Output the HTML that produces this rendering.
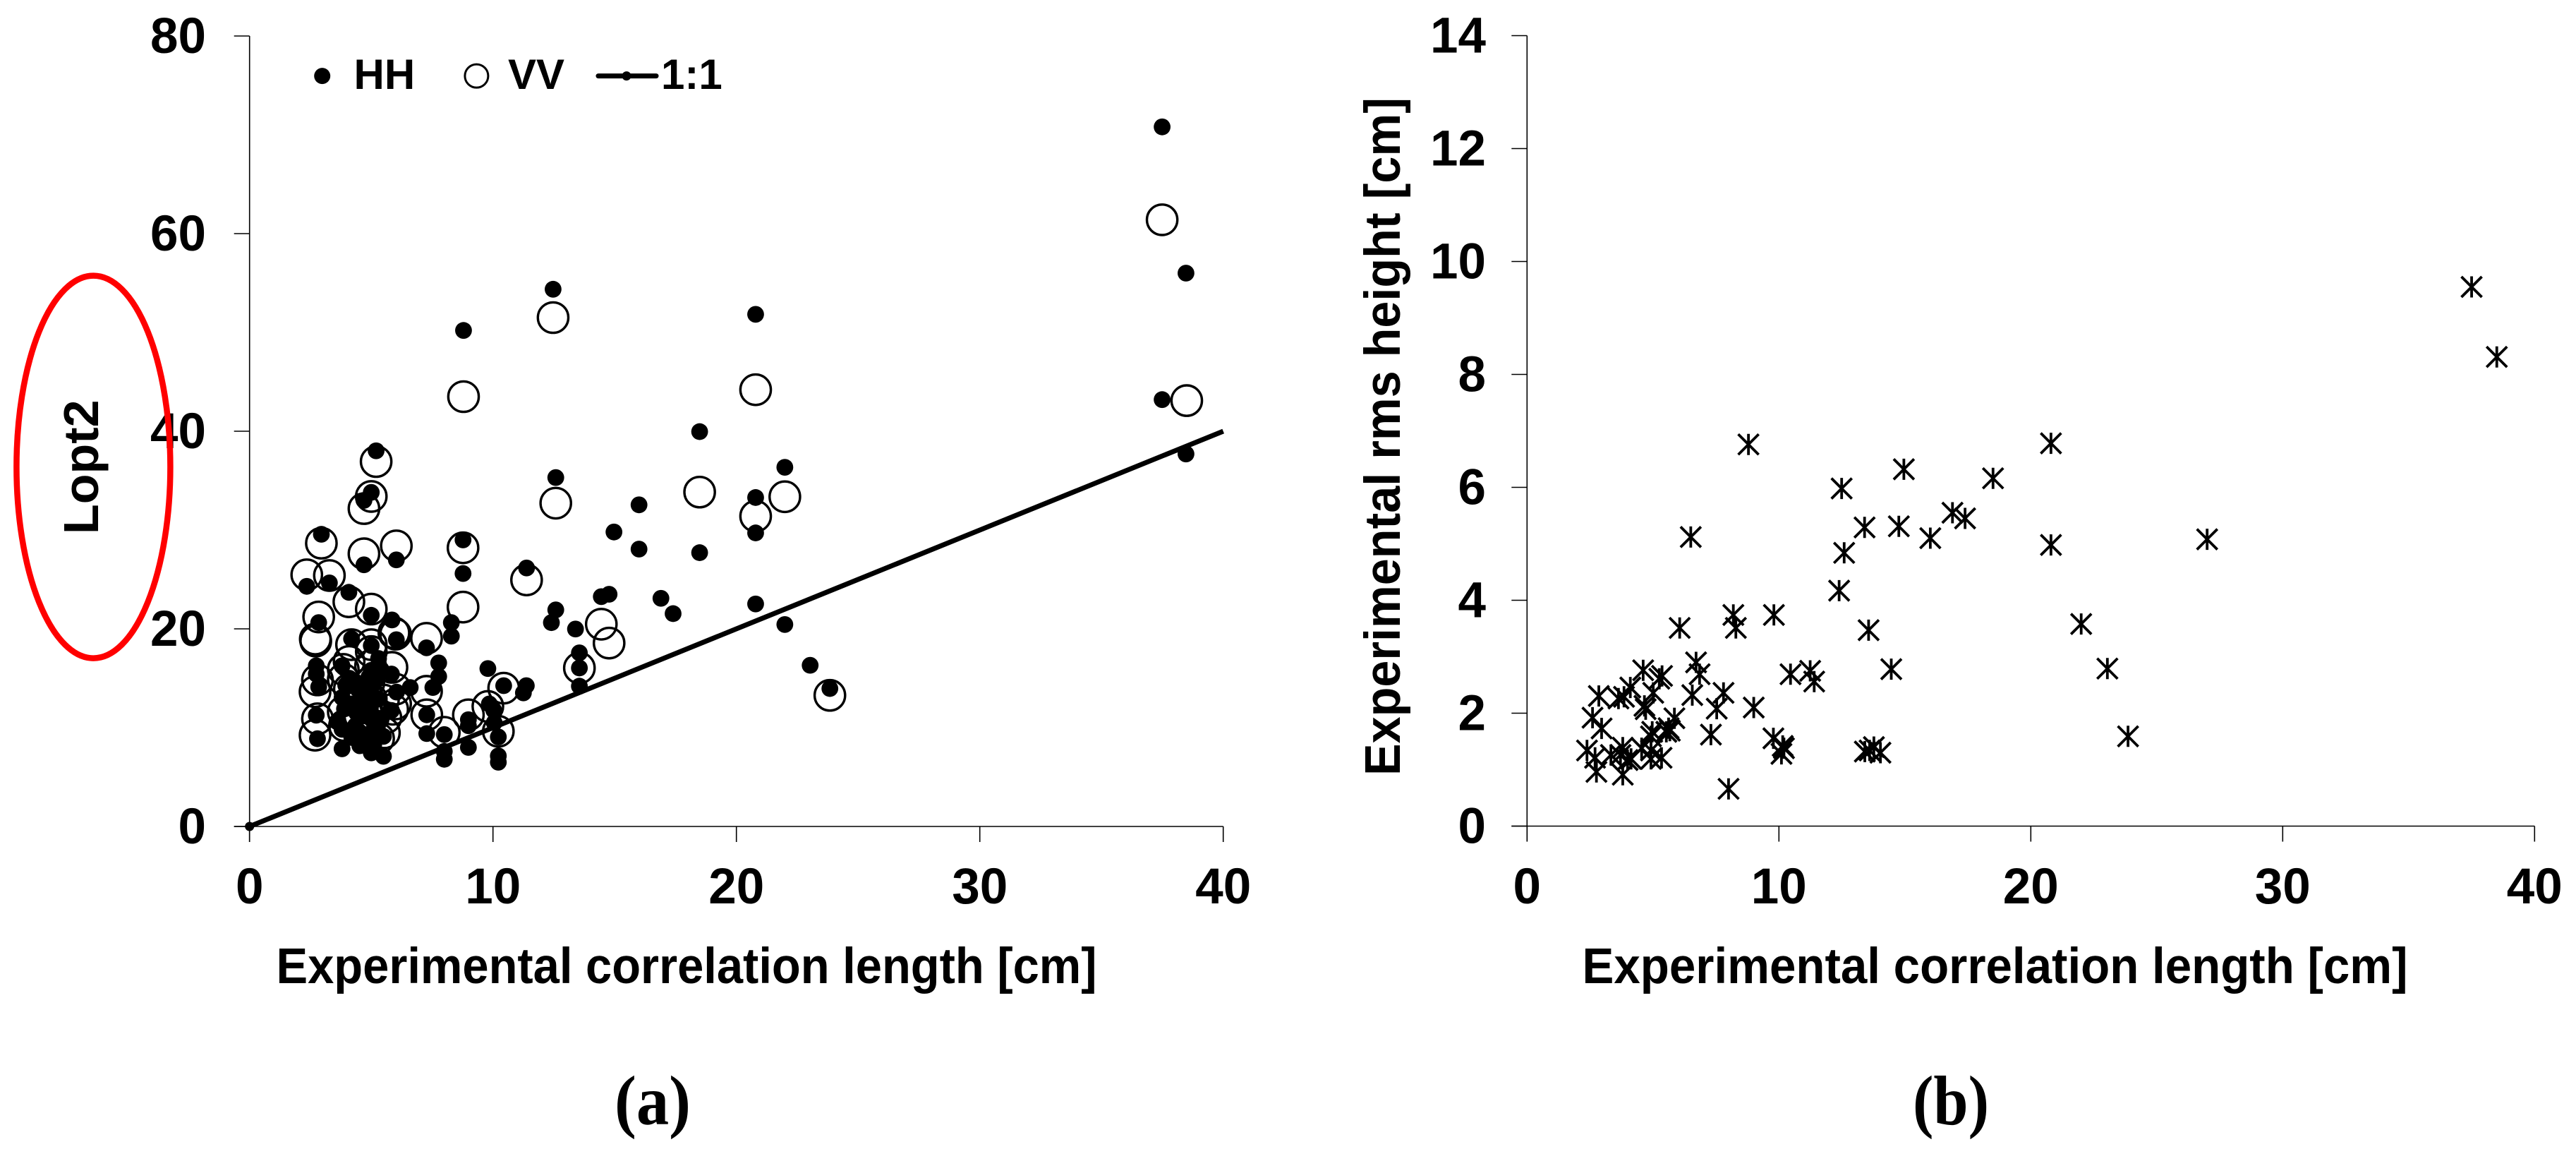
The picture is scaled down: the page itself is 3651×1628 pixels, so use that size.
<!DOCTYPE html>
<html lang="en">
<head>
<meta charset="utf-8">
<title>Lopt2 and rms height versus correlation length</title>
<style>
html,body{margin:0;padding:0;background:#fff;}
svg{display:block;}
text{font-family:"Liberation Sans",Arial,sans-serif;font-weight:bold;fill:#000;}
text.serif{font-family:"Liberation Serif","Times New Roman",serif;}
</style>
</head>
<body>
<svg id="fig" xmlns="http://www.w3.org/2000/svg" width="3651" height="1628" viewBox="0 0 3651 1628">
  <rect x="0" y="0" width="3651" height="1628" fill="#fff"/>
  <g id="panelA"></g>
  <g id="panelB"></g>

  <g>
    <ellipse cx="456.7" cy="107.6" rx="11.5" ry="11.5" fill="#000"/>
    <text x="501.5" y="126" font-size="60">HH</text>
    <circle cx="675.4" cy="107.6" r="16.5" fill="none" stroke="#000" stroke-width="3"/>
    <text x="720" y="126" font-size="60">VV</text>
    <line x1="848" y1="107.6" x2="930" y2="107.6" stroke="#000" stroke-width="7" stroke-linecap="round"/>
    <circle cx="888" cy="107.6" r="6.5" fill="#000"/>
    <text x="937" y="126" font-size="60">1:1</text>
  </g>

  <text x="139" y="757" font-size="70" transform="rotate(-90 139 757)">Lopt2</text>
  <ellipse cx="132.4" cy="661.6" rx="109" ry="271" fill="none" stroke="#ff0000" stroke-width="8.5"/>
  <text x="391.5" y="1393" font-size="71" textLength="1163" lengthAdjust="spacingAndGlyphs">Experimental correlation length [cm]</text>
  <text x="2242.5" y="1393" font-size="71" textLength="1170" lengthAdjust="spacingAndGlyphs">Experimental correlation length [cm]</text>
  <text x="1984" y="1099" font-size="71" textLength="961" lengthAdjust="spacingAndGlyphs" transform="rotate(-90 1984 1099)">Experimental rms height [cm]</text>
  <text class="serif" x="925" y="1593" font-size="100" text-anchor="middle" textLength="108" lengthAdjust="spacingAndGlyphs">(a)</text>
  <text class="serif" x="2765" y="1593" font-size="100" text-anchor="middle" textLength="108" lengthAdjust="spacingAndGlyphs">(b)</text>
</svg>
<script>
// Panel (a) data
const xTicksA = [0, 10, 20, 30, 40];
const yTicksA = [0, 20, 40, 60, 80];
const lineX = [0, 40];
const lineY = [0, 40];
const hhX = [37.49,38.47,37.49,38.47,12.47,20.79,18.49,21.99,12.58,20.79,16.0,14.97,16.0,18.49,20.79,11.38,20.79,21.99,23.03,23.84,14.45,14.77,16.9,17.4,12.58,12.4,13.39,13.55,13.55,13.55,8.79,
  5.2,5.0,4.7,2.95,4.7,6.03,2.35,3.28,4.08,5.0,2.84,5.85,6.03,8.77,8.77,7.27,8.29,8.29,7.77,7.77,7.53,6.6,6.04,7.28,7.28,8.0,8.0,8.0,8.99,8.99,8.99,9.79,10.44,11.37,11.25,10.22,10.22,10.22,10.03,10.05,9.85,
  4.19,5.0,3.8,2.74,2.74,2.84,5.83,5.3,5.0,5.83,5.5,2.74,2.79,3.8,5.0,5.5,3.8,3.8,4.53,5.0,5.0,5.0,4.4,4.19,5.4,4.2,4.75,5.25,4.0,4.6,5.1,4.45,4.8,5.2,3.6,5.05,
  4.3,4.7,5.2,4.9,5.1,5.3,4.5,4.9,5.1,4.2,4.6,3.9,4.9,5.4,4.1,4.35,4.65,3.95,5.15];
const hhY = [70.8,56.0,43.2,37.7,54.37,51.83,39.96,36.35,35.31,33.29,32.55,29.8,28.07,27.71,29.71,26.16,22.52,20.44,16.31,13.96,23.26,23.5,23.09,21.54,21.92,20.63,19.98,17.57,16.04,14.2,50.2,
  38.02,33.81,33.0,29.57,26.48,26.98,24.3,24.65,23.7,21.37,20.63,20.9,18.9,29.0,25.6,18.08,20.63,19.26,16.55,15.18,14.06,14.06,13.6,11.3,9.4,9.3,7.6,6.8,8.0,10.8,10.2,15.98,14.25,14.25,13.52,9.06,7.14,6.5,11.77,10.5,12.4,
  19.0,18.3,16.26,16.26,15.43,14.12,15.43,17.0,15.8,11.74,9.12,11.26,8.88,7.86,7.45,7.1,13.05,9.83,8.17,14.1,12.6,10.9,11.5,12.4,10.8,9.3,13.2,10.0,12.0,8.6,9.8,13.9,8.3,11.0,10.6,8.9,
  14.5,13.8,14.8,12.2,10.8,12.9,9.6,8.9,8.2,9.0,11.3,11.9,15.1,15.9,15.0,10.2,12.8,14.3,9.4];
const vvX = [37.49,38.5,23.84,12.47,20.79,18.49,12.58,21.99,20.79,11.38,14.45,14.77,13.55,8.79,
  5.2,5.0,4.7,2.95,4.7,6.03,2.35,3.28,4.08,5.0,2.84,2.7,2.72,6.0,5.93,8.77,8.77,7.27,7.27,7.28,8.0,8.99,9.79,10.44,10.22,
  4.19,5.0,5.0,4.09,3.85,2.79,2.69,5.85,4.97,6.0,5.88,5.54,2.79,2.69,3.85,5.0,4.53,4.53,4.9,5.1,
  3.85,4.1,3.9,4.4,5.5,4.8,4.9,6.0,5.6,5.3];
const vvY = [61.4,43.1,13.27,51.5,44.2,33.84,32.72,33.37,31.4,24.95,20.47,18.56,16.04,43.5,
  36.93,33.4,32.17,28.67,27.6,28.4,25.47,25.4,22.74,22.0,21.2,18.97,18.76,19.46,19.6,28.2,22.2,19.04,13.68,11.3,9.53,11.3,12.15,14.0,9.63,
  18.4,18.4,17.7,16.7,15.9,14.83,13.64,16.1,16.27,13.9,11.86,9.48,10.9,9.24,11.6,12.9,13.6,11.2,10.0,11.2,
  14.9,13.9,10.2,13.2,12.8,12.0,14.5,12.4,11.0,8.9];

// Panel (b) data
const xTicksB = [0, 10, 20, 30, 40];
const yTicksB = [0, 2, 4, 6, 8, 10, 12, 14];
const rmsX = [37.5,38.5,20.8,18.5,20.8,27.0,22.0,23.04,23.86,8.79,14.96,12.49,6.5,16.89,17.39,13.4,14.76,16.01,12.59,12.39,8.19,9.8,8.29,6.06,13.56,14.46,10.46,11.24,11.4,
  6.71,6.85,4.61,5.36,5.25,4.1,5.01,6.56,7.8,2.85,3.63,3.85,4.66,4.71,7.53,9.0,5.85,2.6,2.96,7.3,5.62,5.53,5.67,4.97,4.92,4.55,4.92,5.34,4.92,2.38,2.7,2.755,3.8,3.8,3.33,3.71,3.99,4.13,8.0,9.78,10.15,10.2,10.1,13.41,13.77,14.03,13.6];
const rmsY = [9.55,8.31,6.78,6.16,4.98,5.08,3.58,2.79,1.59,6.76,6.32,5.98,5.12,5.55,5.45,5.29,5.31,5.1,4.84,4.17,3.74,3.74,3.51,3.51,3.47,2.78,2.69,2.75,2.56,
  2.9,2.69,2.76,2.66,2.61,2.455,2.36,2.32,2.36,2.305,2.26,2.29,2.13,2.07,2.08,2.1,1.91,1.92,1.73,1.62,1.735,1.67,1.69,1.67,1.59,1.38,1.34,1.21,1.19,1.34,1.21,0.96,1.39,0.91,1.26,1.26,1.17,1.19,0.66,1.555,1.42,1.38,1.28,1.32,1.4,1.3,1.34];

const NS = 'http://www.w3.org/2000/svg';

// Axis functions
function xA(v){ return 353.7 + v * 34.5; }
function yA(v){ return 1171 - v * 14; }
function xB(v){ return 2164.3 + v * 35.7; }
function yB(v){ return 1170.5 - v * 80; }

function make(parent, tag, attrs){
  const el = document.createElementNS(NS, tag);
  for (const k in attrs) el.setAttribute(k, attrs[k]);
  parent.appendChild(el);
  return el;
}

function drawAxes(g, xFn, yFn, xTicks, yTicks, yLabelX, tagName){
  const x0 = xFn(0), y0 = yFn(0);
  const xMax = xFn(xTicks[xTicks.length - 1]);
  const yMax = yFn(yTicks[yTicks.length - 1]);
  const axisAttrs = {stroke:'#000','stroke-width':1.6};
  const yAxis = make(g, 'line', Object.assign({x1:x0,y1:yMax,x2:x0,y2:y0 + 22}, axisAttrs));
  
  
  const xAxis = make(g, 'line', Object.assign({x1:x0 - 22,y1:y0,x2:xMax,y2:y0}, axisAttrs));
  
  
  xTicks.forEach(function(t){
    const tick = make(g, 'line', Object.assign({x1:xFn(t),y1:y0,x2:xFn(t),y2:y0 + 22}, axisAttrs));
    
    
    const label = make(g, 'text', {x:xFn(t),y:1280,'font-size':71,'text-anchor':'middle'});
    label.textContent = String(t);
    
    
  });
  yTicks.forEach(function(t){
    const tick = make(g, 'line', Object.assign({x1:x0 - 22,y1:yFn(t),x2:x0,y2:yFn(t)}, axisAttrs));
    
    
    const label = make(g, 'text', {x:yLabelX,y:yFn(t) + 24,'font-size':71,'text-anchor':'end'});
    label.textContent = String(t);
    
    
  });
}

const panelA = document.getElementById('panelA');
const panelB = document.getElementById('panelB');
drawAxes(panelA, xA, yA, xTicksA, yTicksA, 292, 'panel-a');
drawAxes(panelB, xB, yB, xTicksB, yTicksB, 2106, 'panel-b');

hhX.forEach(function(v, i){
  const c = make(panelA, 'circle', {cx:xA(v),cy:yA(hhY[i]),r:11.9,fill:'#000'});
  
  
});
vvX.forEach(function(v, i){
  const c = make(panelA, 'circle', {cx:xA(v),cy:yA(vvY[i]),r:21.6,fill:'none',stroke:'#000','stroke-width':3.4});
  
  
});

const oneToOne = make(panelA, 'line', {x1:xA(lineX[0]),y1:yA(lineY[0]),x2:xA(lineX[1]),y2:yA(lineY[1]),stroke:'#000','stroke-width':7});


const originDot = make(panelA, 'circle', {cx:xA(lineX[0]),cy:yA(lineY[0]),r:6.5,fill:'#000'});



rmsX.forEach(function(v, i){
  const cx = xB(v), cy = yB(rmsY[i]), h = 14.5;
  const g = make(panelB, 'path', {
    d:'M' + (cx - h) + ' ' + (cy - h) + 'L' + (cx + h) + ' ' + (cy + h) +
      'M' + (cx - h) + ' ' + (cy + h) + 'L' + (cx + h) + ' ' + (cy - h) +
      'M' + cx + ' ' + (cy - h - 0.5) + 'L' + cx + ' ' + (cy + h + 0.5),
    fill:'none',stroke:'#000','stroke-width':3.8
  });
  
  
});
</script>
</body>
</html>
